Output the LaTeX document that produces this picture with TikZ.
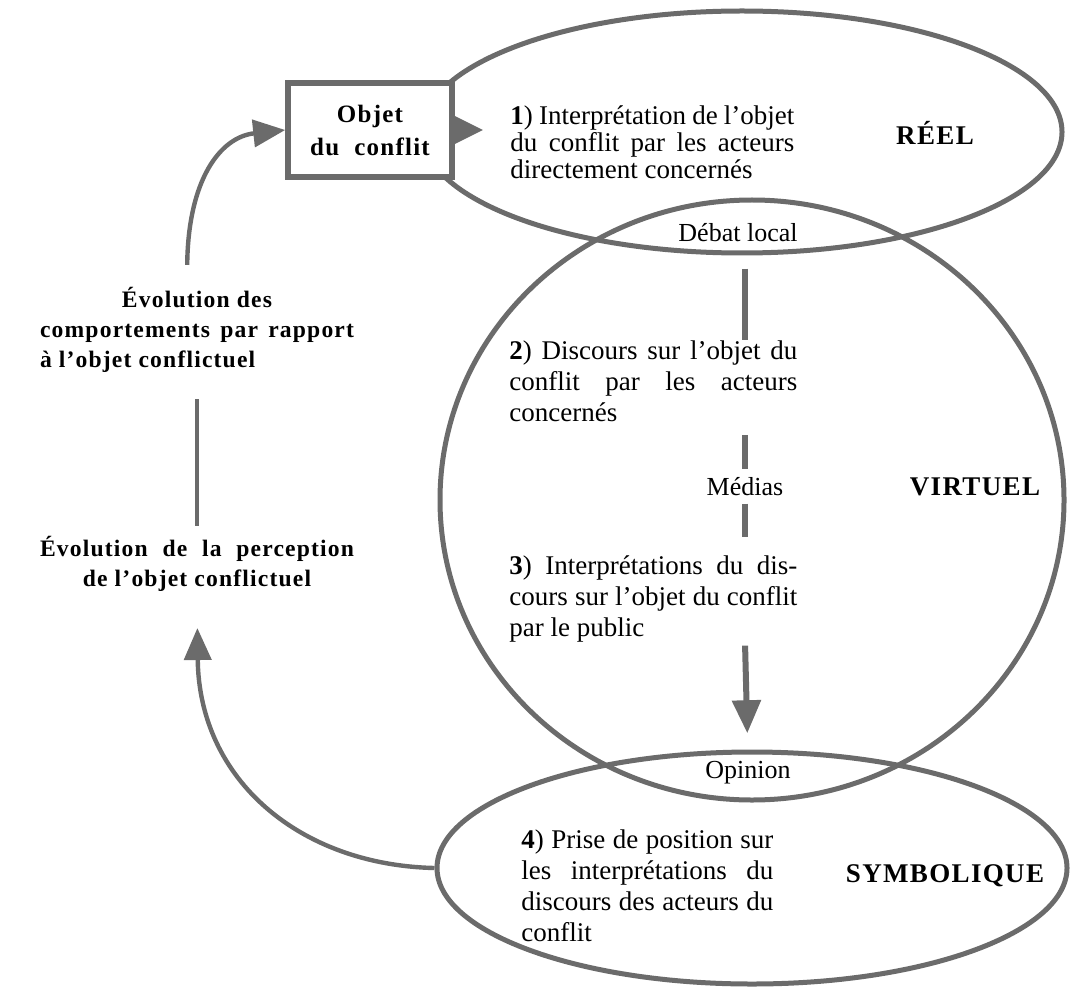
\documentclass[tikz,border=0pt]{standalone}
\usepackage{fontspec}
\setmainfont{Liberation Serif}
\newfontfamily\espacee[LetterSpace=5,Ligatures=TeX]{Liberation Serif}
\usetikzlibrary{arrows.meta,shapes.geometric,calc}
\colorlet{trame}{black!58}
\newcommand{\ligne}[2]{\makebox[#1][s]{#2}}
\tikzset{
  ovale/.style={ellipse,draw=trame,line width=2.5pt,inner sep=0pt},
  boite/.style={draw=trame,line width=2.8pt,fill=white,minimum width=82pt,minimum height=47pt,
    inner sep=0pt,align=center,font=\fontsize{12.5}{16.5}\selectfont\espacee\bfseries},
  texte/.style={inner sep=0pt,align=left,anchor=west,font=\fontsize{13.5}{15.5}\selectfont},
  lens/.style={inner sep=0pt,font=\fontsize{13}{15}\selectfont},
  gras/.style={inner sep=0pt,font=\fontsize{13.5}{15.5}\selectfont\espacee\bfseries},
  evol/.style={inner sep=0pt,align=left,font=\fontsize{11.8}{15}\selectfont\espacee\bfseries},
  trait/.style={draw=trame,line width=3pt},
  fleche/.style={draw=trame,line width=3pt,-{Triangle[length=16.5pt,width=14pt]}},
  courbe/.style={draw=trame,line width=2.2pt,-{Triangle[length=16pt,width=13.5pt]}},
}

\begin{document}
\begin{tikzpicture}[x=0.5pt,y=-0.5pt]
  \useasboundingbox (0,0) rectangle (1074,994);
  \node[ovale,minimum width=320pt,minimum height=121pt] (reel) at (742,132) {};
  \node[ovale,minimum width=312pt,minimum height=300pt] (virtuel) at (752,500) {};
  \node[ovale,minimum width=315pt,minimum height=116pt] (symb) at (752,868) {};
  \node[boite] (objet) at (370,130) {Objet\\du\ \ conflit};
  \fill[trame] ($(objet.east)+(0,-14)$) -- ($(objet.east)+(28,0)$) -- ($(objet.east)+(0,14)$) -- cycle;

  \node[texte,font=\fontsize{13.5}{13.5}\selectfont] (interp) at (510,142)
    {\ligne{142pt}{\textbf{1}) Interprétation de l'objet}\\
     \ligne{142pt}{du conflit par les acteurs}\\ directement concernés};
  \node[gras] (lreel) at (935,133) {RÉEL};
  \node[lens] (debat) at (738,233) {Débat local};
  \node[texte] (discours) at (509,381)
    {\ligne{144pt}{\textbf{2}) Discours sur l'objet du}\\
     \ligne{144pt}{conflit par les acteurs}\\ concernés};
  \node[lens] (medias) at (745,487) {Médias};
  \node[gras] (lvirtuel) at (975,487) {VIRTUEL};
  \node[texte] (interpub) at (509,599)
    {\ligne{144pt}{\textbf{3}) Interprétations du dis-}\\
     \ligne{144pt}{cours sur l'objet du conflit}\\ par le public};
  \node[lens] (opinion) at (748,773) {Opinion};
  \node[texte] (prise) at (521,886)
    {\ligne{126pt}{\textbf{4}) Prise de position sur}\\
     \ligne{126pt}{les interprétations du}\\
     \ligne{126pt}{discours des acteurs du}\\ conflit};
  \node[gras] (lsymb) at (945,876) {SYMBOLIQUE};

  \node[evol] (comport) at (197,330)
    {\makebox[157pt][c]{Évolution des}\\
     \ligne{157pt}{comportements par rapport}\\ à l'objet conflictuel};
  \node[evol] (percep) at (197,564)
    {\ligne{157pt}{Évolution de la perception}\\
     \makebox[157pt][c]{de l'objet conflictuel}};

  \draw[trait,shorten <=13pt] (debat.south -| medias) -- (discours.north -| medias);
  \draw[trait,shorten <=6.5pt,shorten >=4pt] (discours.south -| medias) -- (medias.north);
  \draw[trait,shorten <=3.5pt,shorten >=9pt] (medias.south) -- (interpub.north -| medias);
  \draw[fleche,shorten <=1.5pt,shorten >=14pt] (interpub.south -| medias) -- (opinion.north);

  \draw[courbe,shorten <=11pt] ([xshift=-5pt]comport.north) .. controls (188,180) and (220,137) .. (objet.west);
  \draw[trait,line width=2.2pt,shorten <=13pt,shorten >=5pt] (comport.south) -- (percep.north);
  \draw[courbe,shorten >=18pt] (symb.west) .. controls (300,865) and (199,780) .. (percep.south);
\end{tikzpicture}
\end{document}
